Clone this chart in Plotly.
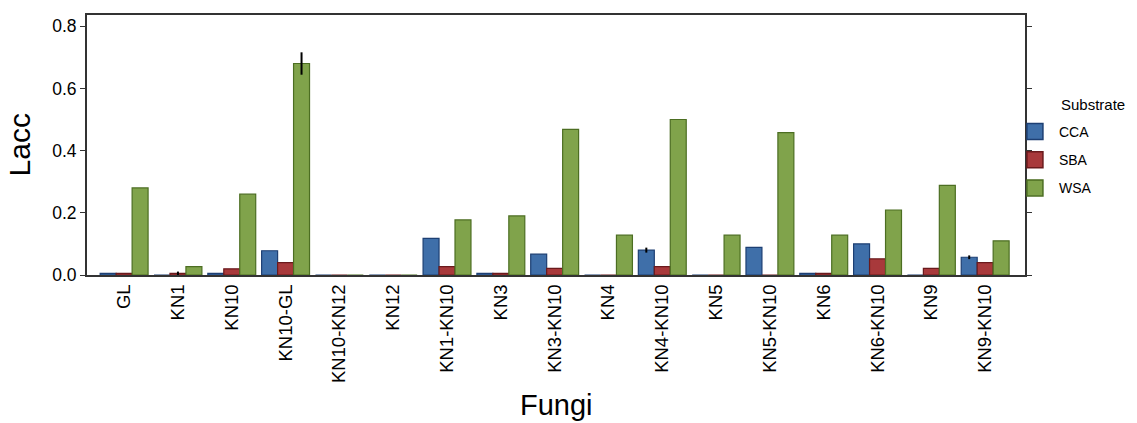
import plotly.graph_objects as go

fungi = ["GL", "KN1", "KN10", "KN10-GL", "KN10-KN12", "KN12", "KN1-KN10", "KN3",
         "KN3-KN10", "KN4", "KN4-KN10", "KN5", "KN5-KN10", "KN6", "KN6-KN10", "KN9", "KN9-KN10"]

cca = [0.005, 0.0, 0.005, 0.078, 0.0, 0.0, 0.118, 0.005, 0.067, 0.0, 0.08, 0.0, 0.089, 0.005, 0.1, 0.0, 0.057]
sba = [0.005, 0.005, 0.02, 0.04, 0.0, 0.0, 0.027, 0.005, 0.021, 0.0, 0.027, 0.0, 0.0, 0.005, 0.052, 0.021, 0.04]
wsa = [0.28, 0.027, 0.26, 0.68, 0.0, 0.0, 0.177, 0.19, 0.468, 0.128, 0.50, 0.128, 0.458, 0.128, 0.209, 0.288, 0.11]

cca_err = [0, 0, 0, 0, 0, 0, 0, 0, 0, 0, 0.008, 0, 0, 0, 0, 0, 0.006]
sba_err = [0, 0.006, 0, 0, 0, 0, 0, 0, 0, 0, 0, 0, 0, 0, 0, 0, 0]
wsa_err = [0, 0, 0, 0.036, 0, 0, 0, 0, 0, 0, 0, 0, 0, 0, 0, 0, 0]

series = [
    ("CCA", cca, cca_err, "#3f6fa9", "#1d3f73"),
    ("SBA", sba, sba_err, "#a8393b", "#6a1a1c"),
    ("WSA", wsa, wsa_err, "#80a34b", "#4c6e22"),
]

fig = go.Figure()
for name, vals, err, col, line in series:
    fig.add_trace(go.Bar(
        name=name, x=fungi, y=vals, showlegend=False,
        marker=dict(color=col, line=dict(color=line, width=1.2)),
        error_y=dict(type="data", array=err, visible=True, color="black",
                     thickness=2, width=0),
    ))
# legend swatches (larger squares than the default bar swatch)
for name, vals, err, col, line in series:
    fig.add_trace(go.Scatter(
        name=name, x=[None], y=[None], mode="markers", legendgroup=name,
        marker=dict(symbol="square", size=16, color=col, line=dict(color=line, width=1.5)),
    ))

fig.update_layout(
    width=1137, height=423,
    margin=dict(l=87, r=112, t=15, b=148),
    paper_bgcolor="white", plot_bgcolor="white",
    barmode="group", bargap=0.11, bargroupgap=0,
    font=dict(family="Liberation Sans, Arial, sans-serif", color="black"),
    legend=dict(
        x=0.985, xanchor="left", y=0.612, yanchor="top",
        bgcolor="rgba(0,0,0,0)",
        font=dict(size=14), tracegroupgap=7, itemsizing="trace", itemwidth=38,
    ),
    annotations=[
        dict(text="Substrate", xref="paper", yref="paper",
             x=1.036, y=0.655, xanchor="left", yanchor="middle",
             showarrow=False, font=dict(size=15)),
        dict(text="Fungi", xref="paper", yref="paper",
             x=0.5, y=-0.5, xanchor="center", yanchor="middle",
             showarrow=False, font=dict(size=29)),
        dict(text="Lacc", xref="paper", yref="paper", textangle=-90,
             x=-0.072, y=0.5, xanchor="center", yanchor="middle",
             showarrow=False, font=dict(size=30)),
    ],
)

fig.update_xaxes(
    range=[-0.69, 16.74], automargin=False,
    tickangle=-90, tickfont=dict(size=18.5),
    showline=True, linecolor="#333", linewidth=2, mirror=True,
    ticks="", showgrid=False,
)
fig.update_yaxes(
    range=[0, 0.836], automargin=False,
    tickvals=[0, 0.2, 0.4, 0.6, 0.8], tickformat=".1f",
    tickfont=dict(size=17.5),
    showline=True, linecolor="#333", linewidth=2, mirror="ticks",
    ticks="outside", ticklen=5, tickcolor="#333",
    showgrid=False, zeroline=False,
)

fig.write_html("out.html", config={"displayModeBar": False},
               post_script="document.body.style.margin='0';")
